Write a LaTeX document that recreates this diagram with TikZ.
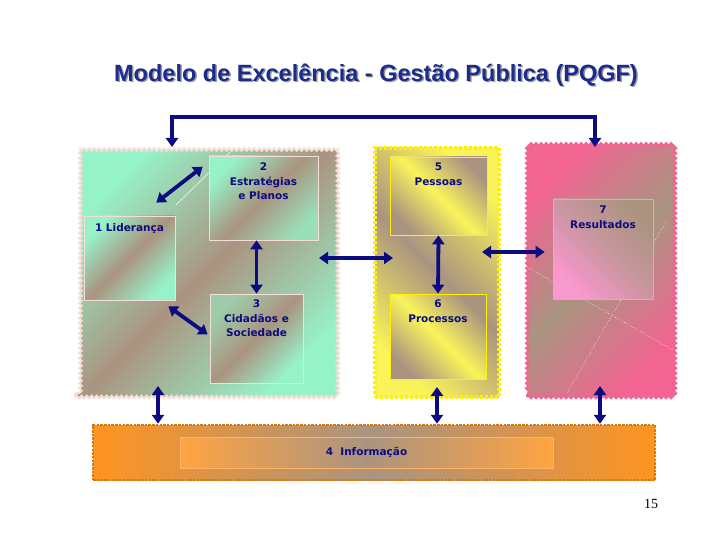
\documentclass[tikz,border=0pt]{standalone}
\usepackage{fontspec}
\setmainfont{Liberation Serif}
\newfontfamily\titlefont{Liberation Sans}
\newfontfamily\boxfont{DejaVu Sans}
\usepackage{tikz}
\usetikzlibrary{shapes,arrows,positioning,calc,decorations.pathmorphing,arrows.meta}

\definecolor{navy}{RGB}{12,12,128}
\definecolor{tituloazul}{RGB}{28,44,140}
\definecolor{marrom}{RGB}{170,148,128}
\definecolor{verde}{RGB}{150,242,200}
\definecolor{bordaverde}{RGB}{246,222,216}
\definecolor{amarelo}{RGB}{250,244,90}
\definecolor{rosa}{RGB}{242,100,146}
\definecolor{rosaclaro}{RGB}{250,152,208}
\definecolor{laranja}{RGB}{255,148,32}
\definecolor{laranjaesc}{RGB}{212,122,22}

\tikzset{
  seta/.style={draw=navy, line width=3.8pt, {Triangle[length=9pt,width=12pt]}-{Triangle[length=9pt,width=12pt]}},
  painel/.style={rectangle, inner sep=0pt},
  caixa/.style={rectangle, inner sep=0pt, draw=#1, line width=0.7pt},
  rotulo/.style={font=\boxfont\bfseries\fontsize{10.5}{14.5}\selectfont, text=navy, align=center},
  risco/.style={draw=white, line width=0.6pt, dotted},
}

\begin{document}
\begin{tikzpicture}[x=1pt,y=-1pt]
    \useasboundingbox (0,0) rectangle (720,540);

    % titulo
    \node[font=\titlefont\bfseries\fontsize{23.5}{28}\selectfont, text=gray!80] (sombra) at (377.5,76.5) {Modelo de Excelência - Gestão Pública (PQGF)};
    \node[font=\titlefont\bfseries\fontsize{23.5}{28}\selectfont, text=tituloazul] (titulo) at (376,75) {Modelo de Excelência - Gestão Pública (PQGF)};

    % paineis
    \node[painel, decorate, decoration={snake,segment length=5pt,amplitude=1.3pt}, draw=bordaverde, line width=2pt,
          top color=verde, bottom color=verde, middle color=marrom, shading angle=45,
          minimum width=260pt, minimum height=249pt] (gp) at (205,272.5) {};
    \node[painel, draw=yellow, line width=4pt, dash pattern=on 3pt off 2pt,
          top color=amarelo, bottom color=amarelo, middle color=marrom, shading angle=-45,
          minimum width=124pt, minimum height=249pt] (yp) at (437,272.5) {};
    \node[painel, decorate, decoration={snake,segment length=5pt,amplitude=1.3pt}, draw=rosa, line width=2pt,
          top color=rosa, bottom color=rosa, middle color=marrom, shading angle=45,
          minimum width=146pt, minimum height=249pt] (pp) at (600,272.5) {};
    \node[painel, draw=laranjaesc, line width=2.5pt, dash pattern=on 2.5pt off 1.2pt,
          left color=laranja, right color=laranja, middle color=marrom,
          minimum width=562pt, minimum height=55pt] (ib) at (374,452.5) {};

    % riscos brancos
    \draw[white, line width=0.5pt] (230,152) -- (176,205);
    \draw[white, line width=0.5pt] (287,296) -- (303,314);
    \draw[risco] (527,267) -- (673,350);
    \draw[risco] (567,393) -- (667,220);

    % caixas
    \node[caixa=bordaverde, top color=verde, bottom color=verde!80!marrom, middle color=marrom, shading angle=45,
          minimum width=109pt, minimum height=84pt,
          label={[rotulo, anchor=north, yshift=-4pt]north:{2\\Estratégias\\e Planos}}] (b2) at (263.5,198) {};
    \node[caixa=bordaverde, top color=verde, bottom color=verde, middle color=marrom, shading angle=45,
          minimum width=91pt, minimum height=84pt,
          label={[rotulo, anchor=north, yshift=-4pt]north:{1 Liderança}}] (b1) at (129.5,258) {};
    \node[caixa=bordaverde, top color=verde!60!marrom, bottom color=verde, middle color=marrom, shading angle=45,
          minimum width=93pt, minimum height=89pt,
          label={[rotulo, anchor=north, yshift=-3pt]north:{3\\Cidadãos e\\Sociedade}}] (b3) at (256.5,338.5) {};
    \node[caixa=yellow, top color=marrom, bottom color=marrom, middle color=amarelo, shading angle=-45,
          minimum width=97pt, minimum height=78pt,
          label={[rotulo, anchor=north, yshift=-3pt]north:{5\\Pessoas}}] (b5) at (438.5,196) {};
    \node[caixa=yellow, top color=marrom, bottom color=marrom, middle color=amarelo, shading angle=-45,
          minimum width=96pt, minimum height=85pt,
          label={[rotulo, anchor=north, yshift=-3pt]north:{6\\Processos}}] (b6) at (438,336.5) {};
    \node[caixa=rosaclaro, top color=marrom, bottom color=rosaclaro, middle color=marrom!60!rosaclaro, shading angle=-45,
          minimum width=100pt, minimum height=100pt,
          label={[rotulo, anchor=north, yshift=-4pt]north:{7\\Resultados}}] (b7) at (603,249) {};
    \node[caixa=laranja!70!white, left color=laranja!85!white, right color=laranja!85!white, middle color=marrom,
          minimum width=373pt, minimum height=31pt, rotulo] (b4) at (366.5,452.5) {4\ \ Informação};

    % conexoes
    \draw[seta] ([xshift=-33pt]gp.north) -- ++(0,-30) -| ([xshift=-5pt]pp.north);
    \draw[seta] ([shift={(-19,-13)}]b1.north east) -- ([shift={(-6,11)}]b2.north west);
    \draw[seta] (b2.south -| b3.north) -- (b3.north);
    \draw[seta] ([shift={(-7,6)}]b1.south east) -- ([shift={(-2,-4)}]b3.west);
    \draw[seta] ([shift={(-17,-14.5)}]gp.east) -- ([shift={(20,-14.5)}]yp.west);
    \draw[seta] (b5.south) -- (b6.north);
    \draw[seta] ([shift={(-19,-20.5)}]yp.east) -- ([shift={(-8,3)}]b7.west);
    \draw[seta] ([shift={(-47,-12)}]gp.south) -- ([xshift=-47pt]gp.south |- ib.north);
    \draw[seta] ([yshift=12pt]yp.south) -- (yp.south |- ib.north);
    \draw[seta] ([yshift=12pt]pp.south) -- (pp.south |- ib.north);

    \node[font=\fontsize{14}{16}\selectfont] (pagina) at (651,504) {15};
\end{tikzpicture}
\end{document}
